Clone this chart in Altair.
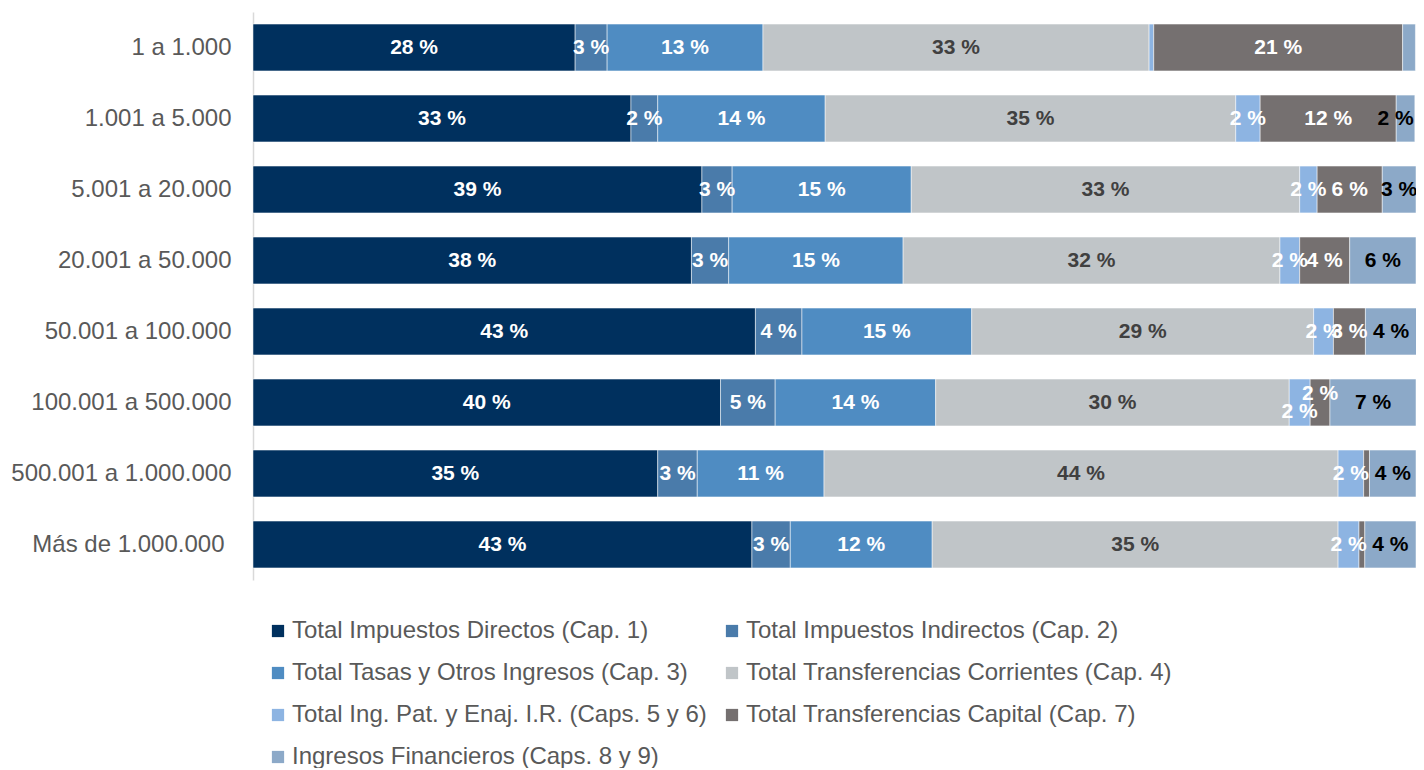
import altair as alt
import pandas as pd

rows = ["1 a 1.000", "1.001 a 5.000", "5.001 a 20.000", "20.001 a 50.000",
        "50.001 a 100.000", "100.001 a 500.000", "500.001 a 1.000.000",
        "Más de 1.000.000"]

series = ["Total Impuestos Directos (Cap. 1)",
          "Total Impuestos Indirectos (Cap. 2)",
          "Total Tasas y Otros Ingresos (Cap. 3)",
          "Total Transferencias Corrientes (Cap. 4)",
          "Total Ing. Pat. y Enaj. I.R. (Caps. 5 y 6)",
          "Total Transferencias Capital (Cap. 7)",
          "Ingresos Financieros (Caps. 8 y 9)"]

cap1 = [27.7, 32.5, 38.6, 37.7, 43.2, 40.2, 34.8, 42.9]
cap2 = [2.75, 2.3, 2.6, 3.2, 4.0, 4.7, 3.4, 3.3]
cap3 = [13.4, 14.4, 15.4, 15.0, 14.6, 13.8, 10.9, 12.2]
cap4 = [33.2, 35.3, 33.4, 32.4, 29.4, 30.4, 44.2, 34.9]
cap5 = [0.4, 2.1, 1.5, 1.7, 1.7, 1.8, 2.2, 1.8]
cap7 = [21.4, 11.7, 5.6, 4.3, 2.75, 1.7, 0.5, 0.5]
cap8 = [1.1, 1.6, 2.9, 5.7, 4.4, 7.4, 4.0, 4.4]

values = [cap1, cap2, cap3, cap4, cap5, cap7, cap8]

colors = ["#00305E", "#4A7BAA", "#4F8CC2", "#C0C5C8", "#8DB4E2", "#757070", "#8CA9C8"]
label_colors = ["#FFFFFF", "#FFFFFF", "#FFFFFF", "#404040", "#FFFFFF", "#FFFFFF", "#000000"]

records = []
for si, (name, vals) in enumerate(zip(series, values)):
    for ri, r in enumerate(rows):
        records.append({"row": r, "serie": name, "order": si, "value": vals[ri],
                        "lblcolor": label_colors[si]})
df = pd.DataFrame(records)

FONT = "Liberation Sans"

base = alt.Chart(df).transform_stack(
    stack="value", groupby=["row"], as_=["x0", "x1"],
    sort=[alt.SortField("order", order="ascending")]
).transform_calculate(
    mid="(datum.x0 + datum.x1) / 2",
    label="format(datum.value, '.0f') + ' %'"
)

yenc = alt.Y("row:N", sort=rows, title=None,
             scale=alt.Scale(paddingInner=0.34, paddingOuter=0.17),
             axis=alt.Axis(ticks=False, labelFontSize=24, labelColor="#595959",
                           labelFont=FONT, domainColor="#D9D9D9",
                           labelPadding={"condition": {"test": "datum.value == 'Más de 1.000.000'",
                                                       "value": 29},
                                         "value": 22},
                           domainWidth=1.5, labelLimit=400))
xscale = alt.Scale(domain=[0, 100], nice=False, zero=True)

bars = base.mark_bar(stroke="#FFFFFF", strokeWidth=0.5).encode(
    x=alt.X("x0:Q", scale=xscale, axis=None, title=None),
    x2="x1:Q",
    y=yenc,
    color=alt.Color("serie:N", sort=series,
                    scale=alt.Scale(domain=series, range=colors),
                    legend=alt.Legend(title=None, orient="none", legendX=13, legendY=607,
                                      direction="horizontal",
                                      columns=2, symbolType="square", symbolSize=150,
                                      symbolStrokeWidth=0, labelFontSize=24,
                                      labelFont=FONT, labelColor="#595959",
                                      labelLimit=800, rowPadding=18, columnPadding=13,
                                      labelOffset=2, padding=0)),
    order=alt.Order("order:Q")
)

special = "datum.row == '100.001 a 500.000' && (datum.order == 4 || datum.order == 5)"
edge = "datum.row == '1.001 a 5.000' && datum.order == 6"

def text_layer(filt, dy=0, dx=0):
    return base.transform_filter(filt).mark_text(
        font=FONT, fontWeight="bold", fontSize=21, dy=dy, dx=dx
    ).encode(
        x=alt.X("mid:Q", scale=xscale),
        y=alt.Y("row:N", sort=rows),
        text="label:N",
        color=alt.Color("lblcolor:N", scale=None)
    )

txt_main = text_layer("datum.value >= 1.3 && !(" + special + ") && !(" + edge + ")")
txt_edge = text_layer(edge, dx=-10)
txt_low = text_layer("datum.row == '100.001 a 500.000' && datum.order == 4", dy=9)
txt_high = text_layer("datum.row == '100.001 a 500.000' && datum.order == 5", dy=-9)

chart = alt.layer(bars, txt_main, txt_edge, txt_low, txt_high).resolve_scale(
    color="independent"
).properties(
    width=1163, height=568,
    autosize=alt.AutoSizeParams(type="none"),
    padding={"left": 245, "top": 4, "right": 0, "bottom": 188}
).configure_view(stroke=None)

chart.save("out.html", embed_options={"renderer": "svg", "actions": False})
